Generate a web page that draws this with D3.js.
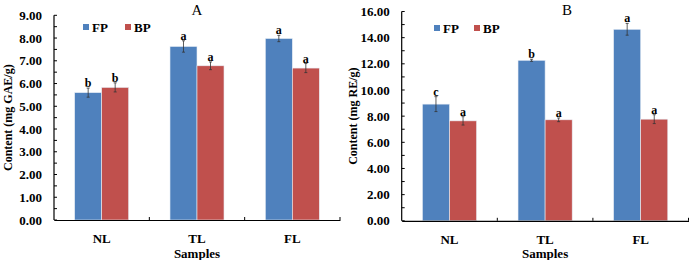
<!DOCTYPE html>
<html><head><meta charset="utf-8">
<script src="https://cdn.jsdelivr.net/npm/d3@7"></script>
<style>
html,body{margin:0;padding:0;background:#fff;}
svg text{font-family:"Liberation Serif","Times New Roman",serif;}
</style></head>
<body><svg id="c" width="690" height="260"></svg>
<script>
const categories = ["NL", "TL", "FL"];
const seriesNames = ["FP", "BP"];
// Panel A: phenolic content (mg GAE/g)
const aFP = [5.60, 7.63, 7.98];
const aBP = [5.83, 6.78, 6.68];
const aFPerr = [0.20, 0.25, 0.14];
const aBPerr = [0.20, 0.17, 0.20];
const aFPlet = ["b", "a", "a"];
const aBPlet = ["b", "a", "a"];
const aTicks = [0, 1, 2, 3, 4, 5, 6, 7, 8, 9];
// Panel B: flavonoid content (mg RE/g)
const bFP = [8.92, 12.27, 14.64];
const bBP = [7.64, 7.72, 7.77];
const bFPerr = [0.57, 0.08, 0.45];
const bBPerr = [0.32, 0.14, 0.34];
const bFPlet = ["c", "b", "a"];
const bBPlet = ["a", "a", "a"];
const bTicks = [0, 2, 4, 6, 8, 10, 12, 14, 16];

const colors = {FP: "#4F81BD", BP: "#C0504D"};
const svg = d3.select("#c");

function panel(o) {
  const g = svg.append("g");
  const x = d3.scaleBand().domain(categories).range([o.x0, o.x1]).paddingInner(0).paddingOuter(0);
  const xs = d3.scaleBand().domain(seriesNames).range([0, x.bandwidth()]).paddingInner(0).paddingOuter(0.765);
  const y = d3.scaleLinear().domain([0, o.max]).range([o.y0, o.y1]);
  const data = [
    {s: "FP", v: o.fp, e: o.fpe, l: o.fpl},
    {s: "BP", v: o.bp, e: o.bpe, l: o.bpl}
  ];
  data.forEach(d => {
    categories.forEach((c, i) => {
      const bx = x(c) + xs(d.s);
      g.append("rect").attr("x", bx).attr("y", y(d.v[i]))
        .attr("width", xs.bandwidth()).attr("height", y(0) - y(d.v[i]))
        .attr("fill", colors[d.s]).attr("stroke", "#e8eef6").attr("stroke-width", 0.6);
      const cx = bx + xs.bandwidth() / 2;
      const t = y(d.v[i] + d.e[i]), b = y(d.v[i] - d.e[i]);
      g.append("line").attr("x1", cx).attr("x2", cx).attr("y1", t).attr("y2", b).attr("stroke", "#333").attr("stroke-width", 0.8);
      [t, b].forEach(yy => g.append("line").attr("x1", cx - 1.5).attr("x2", cx + 1.5).attr("y1", yy).attr("y2", yy).attr("stroke", "#333").attr("stroke-width", 0.8));
      g.append("text").attr("x", cx).attr("y", t - 1).attr("text-anchor", "middle")
        .attr("font-size", 12).attr("font-weight", "bold").text(d.l[i]);
    });
  });
  // y axis
  const ya = d3.axisLeft(y).tickValues(o.ticks).tickFormat(d3.format(".2f")).tickSize(0).tickPadding(12);
  const yg = g.append("g").attr("transform", `translate(${o.x0},0)`).call(ya);
  yg.select(".domain").remove();
  yg.selectAll("text").attr("font-size", 13).attr("font-weight", "bold").attr("fill", "#000")
    .style("font-family", '"Liberation Serif",serif');
  // minor/major inward ticks
  const allT = d3.range(0, o.max + 1e-9, o.minor);
  allT.forEach(v => g.append("line").attr("x1", o.x0).attr("x2", o.x0 + 3).attr("y1", y(v)).attr("y2", y(v)).attr("stroke", "#000").attr("stroke-width", 1));
  g.append("line").attr("x1", o.x0).attr("x2", o.x0).attr("y1", y(0)).attr("y2", y(o.max)).attr("stroke", "#000").attr("stroke-width", 1.2);
  // x axis
  const xa = d3.axisBottom(x).tickSize(0).tickPadding(14);
  const xg = g.append("g").attr("transform", `translate(0,${o.y0})`).call(xa);
  xg.select(".domain").attr("stroke", "#000").attr("stroke-width", 1.2);
  xg.selectAll("text").attr("font-size", 13).attr("font-weight", "bold").attr("fill", "#000")
    .style("font-family", '"Liberation Serif",serif');
  categories.forEach((c, i) => {
    const xx = x(c) + x.bandwidth();
    g.append("line").attr("x1", xx).attr("x2", xx).attr("y1", o.y0).attr("y2", o.y0 - 3).attr("stroke", "#000");
  });
  // labels
  g.append("text").attr("x", (o.x0 + o.x1) / 2).attr("y", 258).attr("text-anchor", "middle")
    .attr("font-size", 13).attr("font-weight", "bold").text("Samples");
  g.append("text").attr("transform", `translate(${o.ylx},${(o.y0 + o.y1) / 2}) rotate(-90)`)
    .attr("text-anchor", "middle").attr("dy", "0.35em")
    .attr("font-size", 12).attr("font-weight", "bold").text(o.ylabel);
  g.append("text").attr("x", o.tx).attr("y", 15).attr("text-anchor", "middle")
    .attr("font-size", 15).text(o.title);
  // legend
  seriesNames.forEach((s, i) => {
    const lx = o.lx[i];
    g.append("rect").attr("x", lx).attr("y", o.ly - 3).attr("width", 6).attr("height", 6).attr("fill", colors[s]);
    g.append("text").attr("x", lx + 9).attr("y", o.ly).attr("dy", "0.35em")
      .attr("font-size", 13).attr("font-weight", "bold").text(s);
  });
}

panel({x0: 54, x1: 340, y0: 220, y1: 15.3, max: 9, minor: 0.5, ticks: aTicks,
  fp: aFP, bp: aBP, fpe: aFPerr, bpe: aBPerr, fpl: aFPlet, bpl: aBPlet,
  ylabel: "Content (mg GAE/g)", ylx: 8, title: "A", tx: 197, lx: [83, 125], ly: 27});
panel({x0: 401.7, x1: 688.5, y0: 220.8, y1: 11.5, max: 16, minor: 1, ticks: bTicks,
  fp: bFP, bp: bBP, fpe: bFPerr, bpe: bBPerr, fpl: bFPlet, bpl: bBPlet,
  ylabel: "Content (mg RE/g)", ylx: 353, title: "B", tx: 567, lx: [434, 474], ly: 28});
</script>
</body></html>
